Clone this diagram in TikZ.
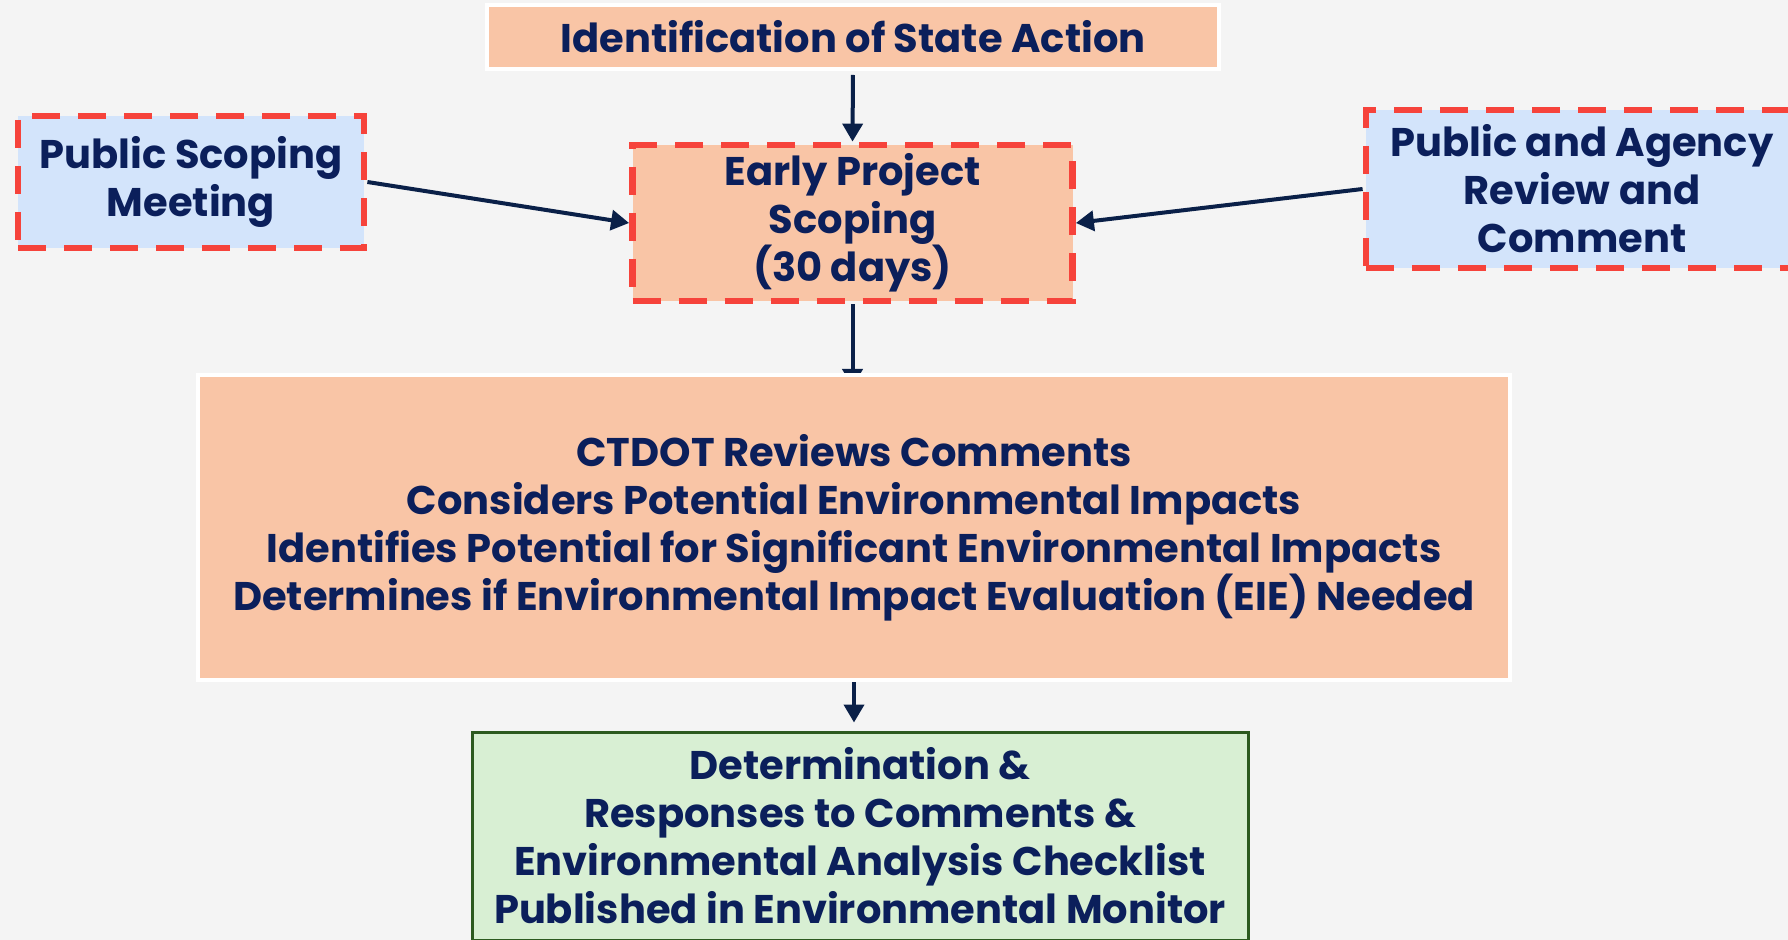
\documentclass[tikz,border=0pt]{standalone}
\usepackage{fontspec}
\setmainfont{Poppins}
\usetikzlibrary{arrows.meta,backgrounds}
\definecolor{bg}{HTML}{F4F4F4}
\definecolor{peach}{HTML}{F9C5A6}
\definecolor{lblue}{HTML}{D3E4FB}
\definecolor{lgreen}{HTML}{D8EFD3}
\definecolor{navy}{HTML}{0B1F5B}
\definecolor{arrowc}{HTML}{0A2048}
\definecolor{redd}{HTML}{F6433B}
\definecolor{dgreen}{HTML}{2C5A1F}
\begin{document}
\begin{tikzpicture}[x=0.5pt,y=-0.5pt,
 txt/.style={font=\fontsize{20}{24}\selectfont\bfseries, text=navy, align=center, inner sep=0pt},
 peachbox/.style={txt, fill=peach, draw=white, line width=2pt},
 dashbox/.style={txt, draw=redd, line width=3.4pt, dash pattern=on 14pt off 9pt},
 arr/.style={draw=arrowc, line width=2pt, -{Triangle[length=9pt,width=10pt]}},
]
\clip (0,0) rectangle (1788,940);
\node[peachbox, minimum width=366pt, minimum height=32pt] (top) at (853,37) {Identification of State Action};
\node[dashbox, fill=peach, minimum width=220pt, minimum height=78pt] (early) at (852.5,223) {Early Project\\Scoping\\(30 days)};
\node[dashbox, fill=lblue, minimum width=173pt, minimum height=66pt] (psm) at (191,182) {Public Scoping\\Meeting};
\node[dashbox, fill=lblue, minimum width=216pt, minimum height=79pt] (par) at (1582,189) {Public and Agency\\Review and\\Comment};
\node[peachbox, minimum width=656pt, minimum height=152.5pt] (ctdot) at (854,527.5) {CTDOT Reviews Comments\\Considers Potential Environmental Impacts\\Identifies Potential for Significant Environmental Impacts\\Determines if Environmental Impact Evaluation (EIE) Needed};
\node[txt, fill=lgreen, draw=dgreen, line width=1.5pt, minimum width=388pt, minimum height=104pt] (green) at (860,836) {Determination \&\\Responses to Comments \&\\Environmental Analysis Checklist\\Published in Environmental Monitor};
\begin{scope}[on background layer]
\fill[bg] (0,0) rectangle (1788,940);
\draw[arr, shorten <=2pt] (top.south) -- (early.north);
\draw[arr, shorten >=-7pt] (early.south) -- (early.south |- ctdot.north);
\draw[arr, shorten >=4pt] (ctdot.south) -- (ctdot.south |- green.north);
\draw[arr] (psm.east) -- (early.west);
\draw[arr] (par.west) -- (early.east);
\end{scope}
\end{tikzpicture}
\end{document}
